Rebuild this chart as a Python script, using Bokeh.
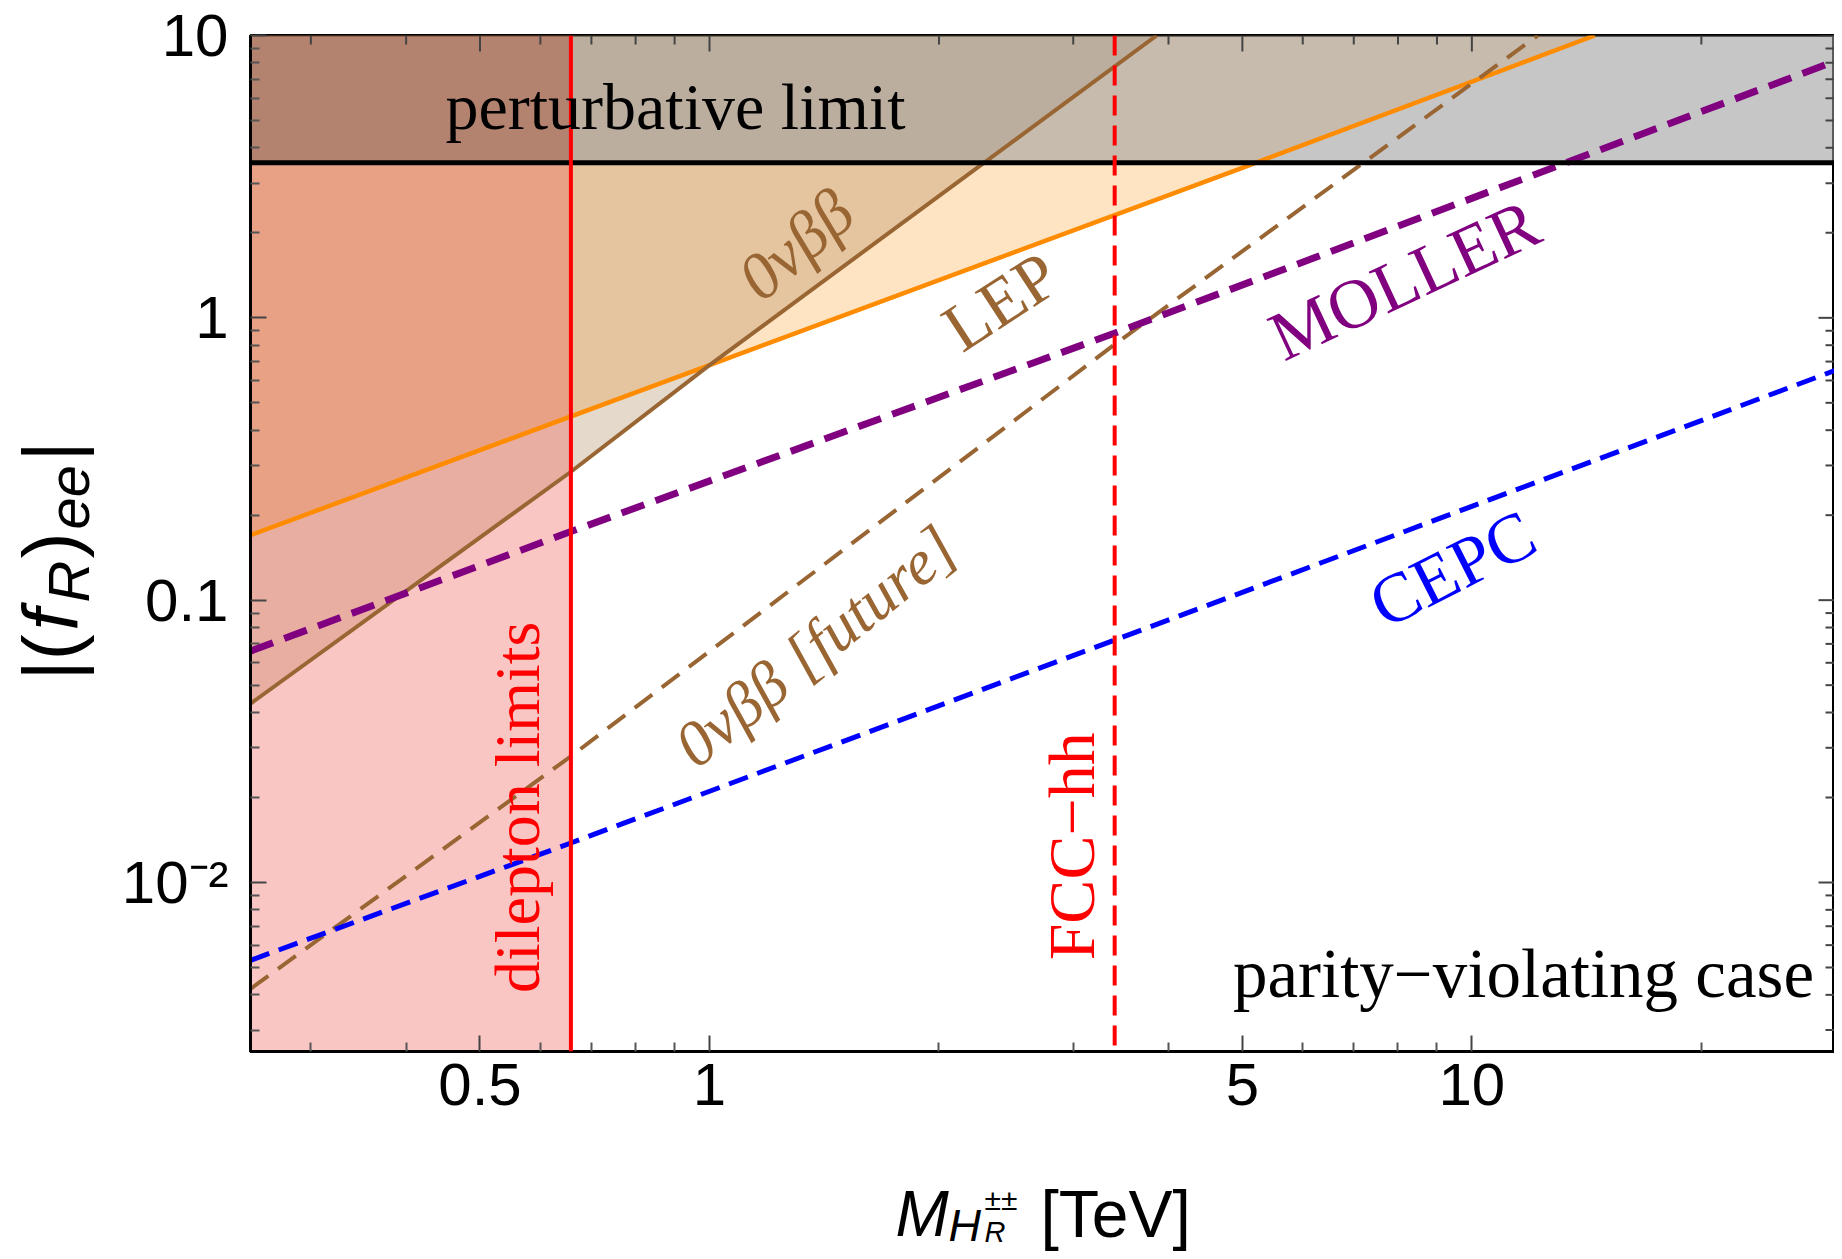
import numpy as np
from bokeh.plotting import figure
from bokeh.models import Range1d, FixedTicker, Label, Span
from bokeh.layouts import row, column
from bokeh.embed import file_html
from bokeh.resources import INLINE

# ---------------- data ----------------
X_RANGE = (0.25, 29.9)        # M_H [TeV]
Y_RANGE = (0.00252, 10.0)     # |(f_R)_ee|

PERT_LIMIT = 3.545            # perturbative limit (sqrt(4 pi))
DILEPTON_M = 0.658            # dilepton limit [TeV]
FCC_M = 3.4                   # FCC-hh reach [TeV]

LEP_M = [0.25, 1.0, 5.0, 14.5]
LEP_F = [0.17, 0.68, 3.4, 10.0]

NDBD_M = [0.25, 0.658, 1.0, 3.86]
NDBD_F = [0.043, 0.285, 0.68, 10.0]

NDBD_FUT_M = [0.25, 0.658, 3.39, 12.2]
NDBD_FUT_F = [0.0042, 0.028, 0.80, 10.0]

MOLLER_M = [0.25, 0.658, 3.39, 29.9]
MOLLER_F = [0.066, 0.175, 0.88, 8.1]

CEPC_M = [0.25, 0.658, 3.39, 29.9]
CEPC_F = [0.0053, 0.0138, 0.072, 0.65]

X_TICKS = [0.5, 1, 5, 10]
X_TICK_LABELS = ["0.5", "1", "5", "10"]
X_MINOR = [0.3, 0.4, 0.6, 0.7, 0.8, 0.9, 2, 3, 4, 6, 7, 8, 9, 20]
Y_TICKS = [0.01, 0.1, 1, 10]
Y_TICK_LABELS = ["10\u207b\u00b2", "0.1", "1", "10"]
Y_MINOR = [m * d for d in (0.001, 0.01, 0.1, 1) for m in range(2, 10)]

# ---------------- page layout (px) ----------------
YLAB_W = 110                  # strip holding the y-axis title
FL, FT, FW, FH = 250, 35, 1584, 1016   # frame position on the page
REF_FH = 1040                 # frame height of the reference (for placing texts)
BOTTOM = 112                  # bottom border of the main canvas (tick labels)
MAIN_H = FT + FH + BOTTOM
XLAB_H = 92
TOTAL_H = MAIN_H + XLAB_H

p = figure(x_axis_type="log", y_axis_type="log", title=None,
           x_range=Range1d(*X_RANGE), y_range=Range1d(*Y_RANGE),
           frame_width=FW, frame_height=FH,
           min_border_left=FL - YLAB_W, min_border_right=0,
           min_border_top=FT, min_border_bottom=BOTTOM,
           output_backend="svg", toolbar_location=None,
           background_fill_color="white", border_fill_color="white")
p.grid.visible = False
p.outline_line_color = "black"
p.outline_line_width = 3

lx0, lx1 = np.log10(X_RANGE)
ly0, ly1 = np.log10(Y_RANGE)


def dx(px):
    return 10 ** (lx0 + (px - FL) / FW * (lx1 - lx0))


def dy(py):
    return 10 ** (ly1 - (py - FT) / FH * (ly1 - ly0))


def ry(py):
    """reference page y -> this page y (frame is slightly shorter)"""
    return FT + (py - FT) * FH / REF_FH


def style_axis(ax, ticks, minor, labels):
    ax.ticker = FixedTicker(ticks=ticks, minor_ticks=minor)
    ax.axis_label = None
    ax.axis_label_standoff = 0
    ax.major_tick_in = 16
    ax.major_tick_out = 0
    ax.minor_tick_in = 9
    ax.minor_tick_out = 0
    ax.major_tick_line_color = "#444444"
    ax.minor_tick_line_color = "#555555"
    ax.major_tick_line_width = 2
    ax.minor_tick_line_width = 2
    ax.axis_line_color = "black"
    ax.axis_line_width = 3
    ax.major_label_overrides = {t: l for t, l in zip(ticks, labels)}
    ax.major_label_text_font = "Liberation Sans"
    ax.major_label_text_font_size = "60px"
    ax.major_label_text_color = "black"


style_axis(p.xaxis[0], X_TICKS, X_MINOR, X_TICK_LABELS)
style_axis(p.yaxis[0], Y_TICKS, Y_MINOR, Y_TICK_LABELS)
p.xaxis[0].major_label_standoff = 12
p.yaxis[0].major_label_standoff = 22

TOP = Y_RANGE[1]
BOT = Y_RANGE[0]
XR = X_RANGE[1]

# ---------------- shaded regions ----------------
p.varea(x=LEP_M, y1=LEP_F, y2=[TOP] * len(LEP_M), fill_color="#ff8c00", fill_alpha=0.23)
p.varea(x=NDBD_M, y1=NDBD_F, y2=[TOP] * len(NDBD_M), fill_color="#996633", fill_alpha=0.25)
p.varea(x=list(X_RANGE), y1=[PERT_LIMIT] * 2, y2=[TOP] * 2, fill_color="#9d9d9d", fill_alpha=0.58)
# dilepton-excluded band (darker where it overlaps the non-perturbative band)
p.varea(x=[X_RANGE[0], DILEPTON_M], y1=[BOT] * 2, y2=[PERT_LIMIT] * 2,
        fill_color="#f06058", fill_alpha=0.36)
p.varea(x=[X_RANGE[0], DILEPTON_M], y1=[PERT_LIMIT] * 2, y2=[TOP] * 2,
        fill_color="#ae5841", fill_alpha=0.5)

# ---------------- frame ticks on top and right ----------------
for ticks, ln in ((X_TICKS, 16), (X_MINOR, 9)):
    p.segment(x0=ticks, y0=[TOP] * len(ticks), x1=ticks, y1=[dy(FT + ln)] * len(ticks),
              line_color="#444444", line_width=2)
for ticks, ln in ((Y_TICKS, 16), (Y_MINOR, 9)):
    p.segment(x0=[XR] * len(ticks), y0=ticks, x1=[dx(FL + FW - ln)] * len(ticks), y1=ticks,
              line_color="#444444", line_width=2)

# ---------------- curves ----------------
p.line(LEP_M, LEP_F, line_color="#ff8c00", line_width=4.5)
p.line(NDBD_M, NDBD_F, line_color="#996633", line_width=4)
p.line(NDBD_FUT_M, NDBD_FUT_F, line_color="#996633", line_width=4, line_dash="22 12")
p.line(MOLLER_M, MOLLER_F, line_color="#800080", line_width=7, line_dash="24 12")
p.line(CEPC_M, CEPC_F, line_color="#0000ff", line_width=5, line_dash="20 10")

p.add_layout(Span(location=PERT_LIMIT, dimension="width", line_color="black", line_width=5))
p.add_layout(Span(location=DILEPTON_M, dimension="height", line_color="#ff0000", line_width=4))
p.add_layout(Span(location=FCC_M, dimension="height", line_color="#ff0000", line_width=4,
                  line_dash="20 10"))


# ---------------- text inside the plot ----------------
def lab(fig, x, y, text, size, color="black", font="Liberation Serif", style="normal",
        angle=0, align="center", baseline="middle"):
    fig.add_layout(Label(x=x, y=y, text=text, text_font=font,
                         text_font_size=f"{size}px", text_font_style=style,
                         text_color=color, angle=angle, angle_units="deg",
                         text_align=align, text_baseline=baseline))


def plab(px, py, text, size, **kw):
    lab(p, dx(px), dy(ry(py)), text, size, **kw)


BROWN = "#996633"
plab(675, 108, "perturbative limit", 66)
plab(1523, 996, "parity\u2212violating case", 69)
plab(517, 825, "dilepton limits", 64, color="#ff0000", angle=90)
plab(1071, 865, "FCC\u2212hh", 66, color="#ff0000", angle=90)
plab(795, 249, "0\u03bd\u03b2\u03b2", 66, color=BROWN, style="italic", angle=41)
plab(1000, 307, "LEP", 68, color=BROWN, angle=33)
plab(1404, 285, "MOLLER", 70, color="#800080", angle=25)
plab(815, 660, "0\u03bd\u03b2\u03b2 [future]", 64, color=BROWN, style="italic", angle=39)
plab(1452, 581, "CEPC", 70, color="#0000ff", angle=27)


# ---------------- axis titles (in their own strips, page-pixel ranges) ----------------
def strip(w, h, xr, yr):
    f = figure(width=w, height=h, title=None,
               x_range=Range1d(*xr), y_range=Range1d(*yr),
               x_axis_location=None, y_axis_location=None, min_border=0,
               output_backend="svg", toolbar_location=None,
               outline_line_color=None, background_fill_color="white",
               border_fill_color="white")
    f.grid.visible = False
    return f


SANS = "Liberation Sans"

# y-axis title  |(f_R)_ee|
ylab = strip(YLAB_W, TOTAL_H, (0, YLAB_W), (TOTAL_H, 0))
y_pieces = [  # text, size, style, shift(+ = subscript), advance
    ("|(", 78, "normal", 0, 50),
    ("f", 78, "italic", 0, 28),
    ("R", 58, "italic", 18, 44),
    (")", 78, "normal", 0, 29),
    ("ee", 58, "italic", 18, 68),
    ("|", 78, "normal", 0, 20),
]
total = sum(pc[4] for pc in y_pieces)
base_x = 50
cur = ry(573) + total / 2
for text, size, st, shift, adv in y_pieces:
    lab(ylab, base_x + shift, cur, text, size, font=SANS, style=st, angle=90,
        align="left", baseline="alphabetic")
    cur -= adv

# x-axis title  M_{H_R^{±±}} [TeV]  (its frame lines up with the main frame)
xlab = strip(FL - YLAB_W + FW, XLAB_H, (FL, FL + FW), (TOTAL_H, MAIN_H))
XB = MAIN_H + 50
lab(xlab, 895, XB, "M", 64, font=SANS, style="italic", align="left", baseline="alphabetic")
lab(xlab, 948, XB + 12, "H", 45, font=SANS, style="italic", align="left", baseline="alphabetic")
lab(xlab, 984, XB - 14, "\u00b1\u00b1", 30, font=SANS, align="left", baseline="alphabetic")
lab(xlab, 984, XB + 18, "R", 29, font=SANS, style="italic", align="left", baseline="alphabetic")
lab(xlab, 1040, XB, "[TeV]", 66, font=SANS, align="left", baseline="alphabetic")

layout = row(ylab, column(p, xlab))
open("out.html", "w").write(file_html(layout, INLINE))
